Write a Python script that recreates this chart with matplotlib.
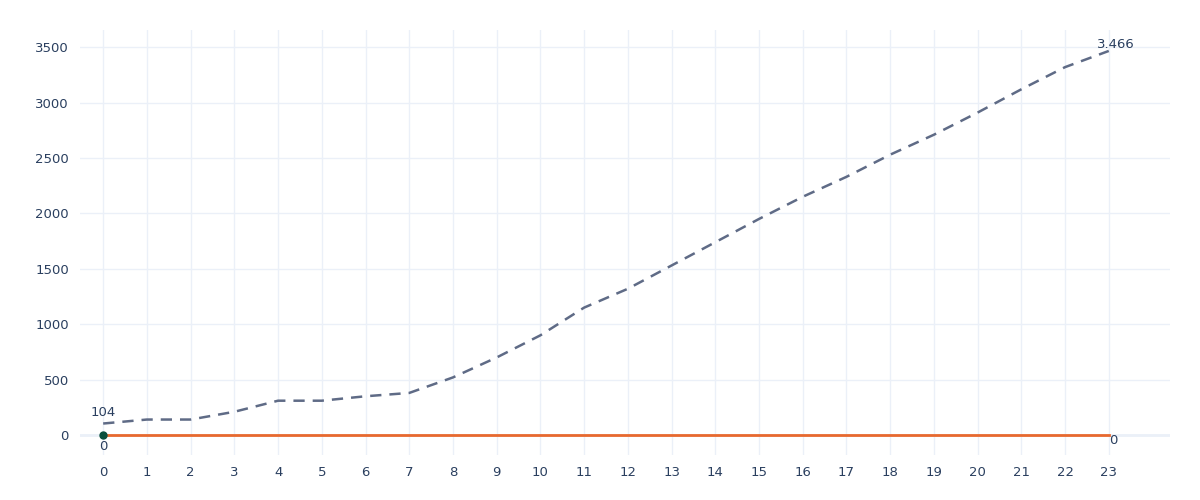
import matplotlib.pyplot as plt

# dados
x = list(range(24))
casos = [104, 140, 140, 210, 310, 310, 350, 380, 520, 700, 900, 1150, 1320,
         1530, 1740, 1950, 2150, 2330, 2530, 2710, 2910, 3120, 3320, 3466]
zeros = [0] * 24

cor_texto = "#2a3f5f"
cor_grade = "#ebf0f8"

fig = plt.figure(figsize=(12, 5), dpi=100)
ax = fig.add_axes([80 / 1200, 1 - 455 / 500, 1090 / 1200, 425 / 500])

ax.plot(x, casos, color="#5f6b86", linewidth=1.8, linestyle=(0, (4.5, 3.2)), zorder=3)
ax.plot(x, zeros, color="#e8692e", linewidth=2, zorder=4)
ax.plot([0], [0], "o", color="#0b4f3c", markersize=5, zorder=5)

# rotulos
ax.annotate("104", (0, casos[0]), xytext=(0, 8), textcoords="offset points",
            ha="center", va="center", fontsize=9.5, color=cor_texto)
ax.annotate("3.466", (23, casos[-1]), xytext=(5, 0), textcoords="offset points",
            ha="center", va="bottom", fontsize=9.5, color=cor_texto)
ax.annotate("0", (0, 0), xytext=(0, -8), textcoords="offset points",
            ha="center", va="center", fontsize=9.5, color=cor_texto)
ax.annotate("0", (23, 0), xytext=(3, -4), textcoords="offset points",
            ha="center", va="center", fontsize=9.5, color=cor_texto)

ax.set_xlim(-0.53, 24.4)
ax.set_ylim(-180, 3655)
ax.set_xticks(x)
ax.set_yticks(range(0, 3501, 500))
ax.grid(True, color=cor_grade, linewidth=1)
ax.axhline(0, color=cor_grade, linewidth=2, zorder=1)
ax.set_axisbelow(True)
for s in ax.spines.values():
    s.set_visible(False)
ax.tick_params(length=0, labelsize=9.5, labelcolor=cor_texto, pad=8)

fig.savefig("out.png", dpi=100)
